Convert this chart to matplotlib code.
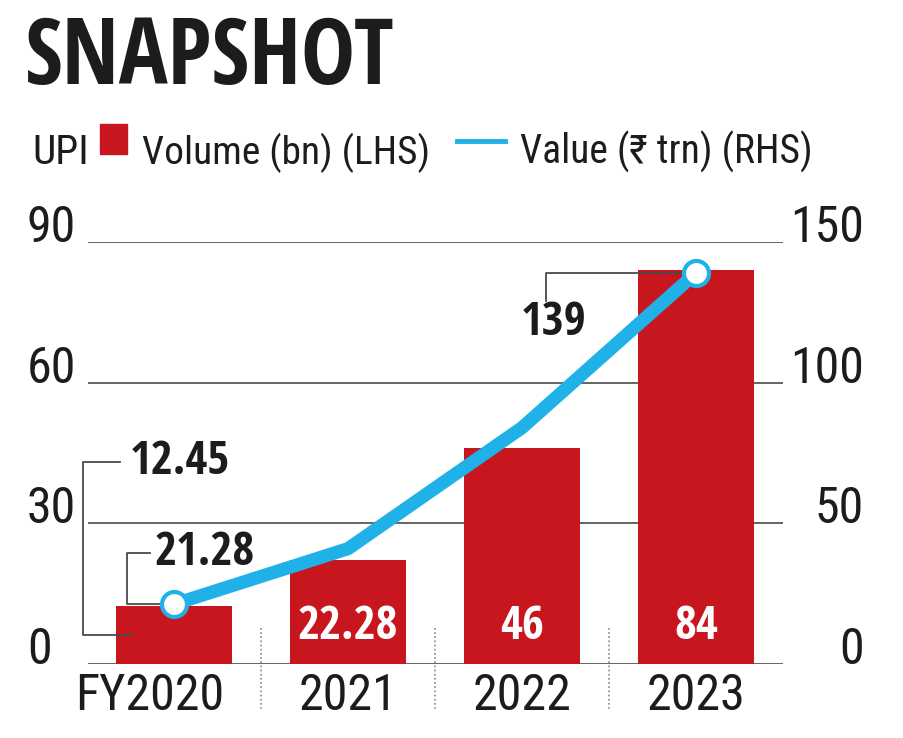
import matplotlib
matplotlib.use("Agg")
import matplotlib.pyplot as plt
from matplotlib.patches import Rectangle
from matplotlib.lines import Line2D
from matplotlib.transforms import ScaledTranslation

# ----------------------------------------------------------------------
# DATA
# ----------------------------------------------------------------------

years = ["FY2020", "2021", "2022", "2023"]
volume_bn = [12.45, 22.28, 46, 84]        # LHS, bars
value_trn = [21.28, 41, 84, 139]          # RHS, line
volume_labels = ["12.45", "22.28", "46", "84"]
value_labels = ["21.28", "", "", "139"]

left_ticks = [0, 30, 60, 90]
right_ticks = [0, 50, 100, 150]

# ----------------------------------------------------------------------
# STYLE
# ----------------------------------------------------------------------

RED = "#c8161e"
BLUE = "#1fb1e7"
INK = "#1c1c1c"
GRID = "#4a4a4a"
REG = ["Roboto Condensed", "Noto Sans", "DejaVu Sans"]
BOLD = ["Open Sans Condensed", "Roboto Condensed", "DejaVu Sans"]

plt.rcParams["font.family"] = REG

W, H = 904, 738
fig = plt.figure(figsize=(W / 100, H / 100), dpi=100)
fig.patch.set_facecolor("white")
renderer = fig.canvas.get_renderer()


def fit_width(txt, target_px):
    """Scale a text's font size so it spans target_px pixels."""
    bb = txt.get_window_extent(renderer)
    txt.set_fontsize(txt.get_fontsize() * target_px / bb.width)


# axes spans 88..783 px horizontally, 242..664 px vertically
ax = fig.add_axes([88 / W, 1 - 664 / H, 695 / W, 422 / H])
ax2 = ax.twinx()

x = list(range(len(years)))

ax.set_xlim(-0.495, 3.5)
ax.set_ylim(0, 90)
ax2.set_ylim(0, 150)

for a in (ax, ax2):
    for s in a.spines.values():
        s.set_visible(False)
    a.patch.set_visible(False)

# gridlines
for t in left_ticks:
    ax.axhline(t, color=GRID, lw=1.2, zorder=1)

# bars
ax.bar(x, volume_bn, width=0.67, color=RED, zorder=2)

# white labels inside bars (the first one is labelled outside)
for i in x[1:]:
    ax.text(i, 8.1, volume_labels[i], color="white", fontsize=34,
            fontweight="bold", family=BOLD, ha="center", va="center", zorder=3)

# dotted separators between years
for i in x[:-1]:
    ax.plot([i + 0.5, i + 0.5], [7.7, -9.8], color="#8a8a8a", lw=1.2,
            ls=(0, (1, 1.5)), clip_on=False, zorder=1)

# value line
ax2.plot(x, value_trn, color=BLUE, lw=9.5, solid_joinstyle="round",
         solid_capstyle="round", zorder=4)
ax2.plot([x[0], x[-1]], [value_trn[0], value_trn[-1]], ls="none",
         marker="o", ms=18, mfc="white", mec=BLUE, mew=3, zorder=5)

# ticks
ax.set_xticks(x)
ax.set_xticklabels(years, fontsize=36, color=INK)
ax.tick_params(axis="x", length=0, pad=6)
# "FY" hangs to the left so the year digits sit under the bar
first = ax.get_xticklabels()[0]
first.set_transform(first.get_transform() +
                    ScaledTranslation(-0.24, 0, fig.dpi_scale_trans))

ax.set_yticks(left_ticks)
ax.set_yticklabels([str(t) for t in left_ticks], fontsize=36, color=INK)
ax.tick_params(axis="y", length=0, pad=44)
for lab in ax.get_yticklabels():
    lab.set_ha("left")
    lab.set_va("baseline")

ax2.set_yticks(right_ticks)
ax2.set_yticklabels([str(t) for t in right_ticks], fontsize=36, color=INK)
ax2.tick_params(axis="y", length=0, pad=58)
for lab in ax2.get_yticklabels():
    lab.set_ha("right")
    lab.set_va("baseline")

# ----------------------------------------------------------------------
# ANNOTATIONS WITH LEADER LINES
# ----------------------------------------------------------------------

lead = dict(color=GRID, lw=1.3, clip_on=False, zorder=3)

# 12.45 -> first bar
v = volume_bn[0]
ax.plot([-0.31, -0.525, -0.525, -0.24], [v + 30.7, v + 30.7, v / 2, v / 2], **lead)
ax.text(-0.255, v + 30.7, volume_labels[0], fontsize=34, fontweight="bold",
        family=BOLD, color=INK, ha="left", va="center")

# 21.28 -> first line point
p = value_trn[0]
ax2.plot([-0.14, -0.27, -0.27, 0], [p + 18.3, p + 18.3, p, p], **lead)
ax2.text(-0.11, p + 18.3, value_labels[0], fontsize=34, fontweight="bold",
         family=BOLD, color=INK, ha="left", va="center")

# 139 -> last line point
p = value_trn[-1]
ax2.plot([3, 2.137, 2.137], [p, p, p - 10], **lead)
ax2.text(2.184, p - 17.5, value_labels[-1], fontsize=34, fontweight="bold",
         family=BOLD, color=INK, ha="center", va="center")

# ----------------------------------------------------------------------
# TITLE AND LEGEND
# ----------------------------------------------------------------------

title = fig.text(25 / W, 1 - 84 / H, "SNAPSHOT", fontsize=64, fontweight="bold",
                 family=BOLD, color=INK, ha="left", va="baseline")
fit_width(title, 370)

base = 1 - 164 / H
vol = fig.text(142 / W, base, "Volume (bn) (LHS)", fontsize=36, color=INK,
               ha="left", va="baseline")
fit_width(vol, 288)
val = fig.text(520 / W, base, "Value (₹ trn) (RHS)", fontsize=36, color=INK,
               ha="left", va="baseline")
fit_width(val, 292)
fig.text(32 / W, base, "UPI", fontsize=vol.get_fontsize() * 1.05, color=INK,
         ha="left", va="baseline")
fig.patches.append(Rectangle((100 / W, 1 - 154 / H), 27 / W, 30 / H,
                             transform=fig.transFigure, color=RED))
fig.lines.append(Line2D([457 / W, 505 / W], [1 - 141 / H, 1 - 141 / H],
                        transform=fig.transFigure, color=BLUE, lw=3.5))

fig.savefig("out.png", dpi=100)
